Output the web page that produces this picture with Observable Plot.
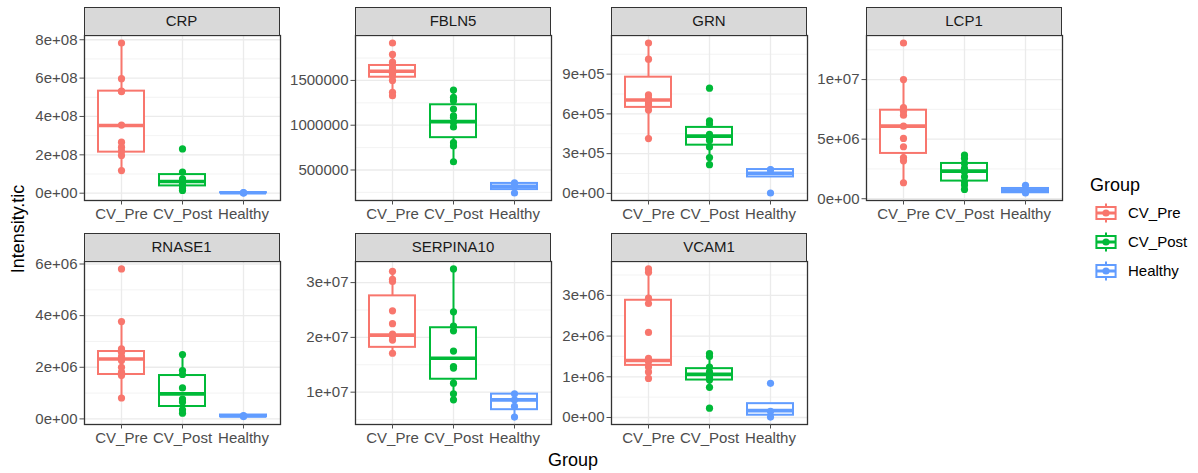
<!DOCTYPE html>
<html><head><meta charset="utf-8">
<script src="https://cdn.jsdelivr.net/npm/d3@7"></script>
<script src="https://cdn.jsdelivr.net/npm/@observablehq/plot@0.6"></script>
<style>
body{margin:0;background:#fff;font-family:"Liberation Sans",Arial,sans-serif;}
#chart{position:relative;width:1198px;height:473px;overflow:hidden;background:#fff;}
.strip{position:absolute;background:#D9D9D9;border:1.3px solid #333;box-sizing:border-box;text-align:center;color:#1A1A1A;font-size:15px;line-height:26px;}
.pan{position:absolute;}
.ttl{position:absolute;font-size:18px;color:#000;white-space:nowrap;}
.leg{position:absolute;left:1090px;top:172px;font-size:15px;color:#000;}
</style></head>
<body><div id="chart"></div>
<script>
const groups = ["CV_Pre","CV_Post","Healthy"];
const colors = ["#F8766D","#00BA38","#619CFF"];

// points per group (CV_Pre, CV_Post, Healthy); box = [lower whisker, q1, median, q3, upper whisker]
const CRP_points = [
  [7.83e8,5.97e8,5.32e8,5.30e8,3.55e8,2.66e8,2.40e8,2.19e8,1.97e8,1.18e8],
  [2.31e8,1.10e8,0.75e8,0.62e8,0.55e8,0.45e8,0.40e8,0.25e8,0.14e8],
  [0.03e8,0.02e8,0.01e8]];
const CRP_box = [[1.18e8,2.14e8,3.53e8,5.32e8,7.83e8],[0.14e8,0.38e8,0.61e8,0.97e8,1.10e8],[0.01e8,0.015e8,0.02e8,0.025e8,0.03e8]];
const CRP_ticks = [0,2e8,4e8,6e8,8e8];
const CRP_labels = ["0e+00","2e+08","4e+08","6e+08","8e+08"];

const FBLN5_points = [
  [1.918e6,1.79e6,1.704e6,1.667e6,1.63e6,1.61e6,1.58e6,1.55e6,1.5e6,1.367e6,1.33e6],
  [1.393e6,1.31e6,1.273e6,1.18e6,1.105e6,1.086e6,1.03e6,0.98e6,0.805e6,0.768e6,0.592e6],
  [0.356e6,0.318e6,0.243e6]];
const FBLN5_box = [[1.367e6,1.536e6,1.603e6,1.667e6,1.79e6],[0.592e6,0.861e6,1.04e6,1.228e6,1.393e6],[0.243e6,0.281e6,0.318e6,0.350e6,0.356e6]];
const FBLN5_ticks = [500000,1000000,1500000];
const FBLN5_labels = ["500000","1000000","1500000"];

const GRN_points = [
  [11.35e5,10.13e5,7.43e5,7.18e5,6.92e5,6.75e5,6.6e5,6.29e5,4.14e5],
  [7.94e5,5.48e5,5.23e5,4.45e5,4.22e5,4.0e5,3.51e5,2.70e5,2.17e5],
  [1.80e5,1.78e5,0.03e5]];
const GRN_box = [[4.14e5,6.49e5,7.05e5,8.77e5,11.35e5],[2.17e5,3.64e5,4.32e5,4.98e5,5.48e5],[1.24e5,1.24e5,1.52e5,1.80e5,1.80e5]];
const GRN_ticks = [0,3e5,6e5,9e5];
const GRN_labels = ["0e+00","3e+05","6e+05","9e+05"];

const LCP1_points = [
  [13.07e6,10.0e6,7.65e6,7.35e6,7.01e6,6.09e6,5.06e6,4.36e6,3.46e6,3.18e6,1.34e6],
  [3.66e6,3.38e6,2.96e6,2.54e6,2.26e6,1.84e6,1.42e6,1.15e6,0.78e6],
  [1.12e6,0.67e6,0.48e6]];
const LCP1_box = [[1.34e6,3.80e6,6.09e6,7.43e6,10.0e6],[0.78e6,1.48e6,2.32e6,2.96e6,3.66e6],[0.48e6,0.50e6,0.67e6,0.86e6,1.12e6]];
const LCP1_ticks = [0,5e6,1e7];
const LCP1_labels = ["0e+00","5e+06","1e+07"];

const RNASE1_points = [
  [5.81e6,3.77e6,2.71e6,2.58e6,2.41e6,2.26e6,2.0e6,1.81e6,1.68e6,0.81e6],
  [2.49e6,1.87e6,1.72e6,1.2e6,0.77e6,0.65e6,0.35e6,0.22e6],
  [0.13e6,0.11e6,0.09e6]];
const RNASE1_box = [[0.81e6,1.72e6,2.32e6,2.61e6,3.77e6],[0.22e6,0.48e6,0.97e6,1.68e6,2.49e6],[0.07e6,0.08e6,0.11e6,0.15e6,0.16e6]];
const RNASE1_ticks = [0,2e6,4e6,6e6];
const RNASE1_labels = ["0e+00","2e+06","4e+06","6e+06"];

const SERPINA10_points = [
  [32.06e6,30.6e6,30.2e6,24.85e6,22.5e6,20.6e6,20.2e6,19.5e6,17.1e6],
  [32.5e6,24.67e6,22.06e6,21.2e6,17.5e6,14.67e6,14.4e6,11.64e6,9.7e6,8.6e6],
  [9.7e6,8.6e6,7.4e6,5.45e6]];
const SERPINA10_box = [[17.1e6,18.18e6,20.42e6,27.58e6,32.06e6],[8.6e6,12.36e6,16.18e6,21.76e6,32.5e6],[5.45e6,6.8e6,8.6e6,9.64e6,9.7e6]];
const SERPINA10_ticks = [1e7,2e7,3e7];
const SERPINA10_labels = ["1e+07","2e+07","3e+07"];

const VCAM1_points = [
  [3.65e6,3.57e6,2.93e6,2.80e6,2.09e6,1.45e6,1.37e6,1.24e6,1.12e6,0.96e6],
  [1.57e6,1.50e6,1.24e6,1.12e6,1.04e6,0.98e6,0.92e6,0.74e6,0.23e6],
  [0.84e6,0.15e6,0.01e6]];
const VCAM1_box = [[0.96e6,1.28e6,1.40e6,2.88e6,3.65e6],[0.74e6,0.92e6,1.06e6,1.2e6,1.57e6],[0.01e6,0.056e6,0.17e6,0.34e6,0.34e6]];
const VCAM1_ticks = [0,1e6,2e6,3e6];
const VCAM1_labels = ["0e+00","1e+06","2e+06","3e+06"];

const genes = ["CRP","FBLN5","GRN","LCP1","RNASE1","SERPINA10","VCAM1"];
const panels = [
  {name:"CRP", pts:CRP_points, box:CRP_box, ticks:CRP_ticks, labels:CRP_labels},
  {name:"FBLN5", pts:FBLN5_points, box:FBLN5_box, ticks:FBLN5_ticks, labels:FBLN5_labels},
  {name:"GRN", pts:GRN_points, box:GRN_box, ticks:GRN_ticks, labels:GRN_labels},
  {name:"LCP1", pts:LCP1_points, box:LCP1_box, ticks:LCP1_ticks, labels:LCP1_labels},
  {name:"RNASE1", pts:RNASE1_points, box:RNASE1_box, ticks:RNASE1_ticks, labels:RNASE1_labels},
  {name:"SERPINA10", pts:SERPINA10_points, box:SERPINA10_box, ticks:SERPINA10_ticks, labels:SERPINA10_labels},
  {name:"VCAM1", pts:VCAM1_points, box:VCAM1_box, ticks:VCAM1_ticks, labels:VCAM1_labels}
];

// layout
const colLeft = [83.5, 355, 611, 866];
const PW = 196;
const stripTop = [7, 233];
const stripH = 28;
const panelTop = [35, 261];
const panelH = [165, 163];
const ML = 80, MR = 2, MT = 2, MB = 34;

const chart = document.getElementById("chart");

function makePanel(def, idx){
  const col = idx % 4, row = Math.floor(idx / 4);
  const pts = groups.flatMap((g,i)=>def.pts[i].map(v=>({g, v})));
  const boxes = groups.map((g,i)=>{const b=def.box[i]; return {g, lo:b[0], q1:b[1], med:b[2], q3:b[3], hi:b[4]};});
  const all = def.pts.flat().concat(def.box.flat());
  const [mn, mx] = d3.extent(all);
  const pad = (mx - mn) * 0.05;
  const dom = [mn - pad, mx + pad];
  const step = def.ticks[1] - def.ticks[0];
  const minor = [];
  for (let t = def.ticks[0] - step/2; t <= dom[1]; t += step) if (t >= dom[0]) minor.push(t);
  const fmt = new Map(def.ticks.map((t,i)=>[t, def.labels[i]]));
  const H = panelH[row];
  const svg = Plot.plot({
    width: ML + PW + MR, height: MT + H + MB,
    marginLeft: ML, marginRight: MR, marginTop: MT, marginBottom: MB,
    style: {background: "none", fontFamily: "'Liberation Sans', Arial, sans-serif", fontSize: "15px", overflow: "visible", maxWidth: "none"},
    x: {type: "band", domain: groups, paddingInner: 0.25, paddingOuter: 0.225, align: 0.5},
    y: {domain: dom},
    color: {domain: groups, range: colors},
    marks: [
      Plot.gridY(minor, {stroke: "#EBEBEB", strokeOpacity: 1, strokeWidth: 0.6}),
      Plot.gridY(def.ticks, {stroke: "#EBEBEB", strokeOpacity: 1, strokeWidth: 1.3}),
      Plot.gridX(groups, {stroke: "#EBEBEB", strokeOpacity: 1, strokeWidth: 1.3}),
      Plot.ruleX(boxes, {x: "g", y1: "lo", y2: "hi", stroke: "g", strokeWidth: 2}),
      Plot.barY(boxes, {x: "g", y1: "q1", y2: "q3", fill: "white", stroke: "g", strokeWidth: 2}),
      Plot.tickY(boxes, {x: "g", y: "med", stroke: "g", strokeWidth: 3.6}),
      Plot.dot(pts, {x: "g", y: "v", fill: "g", r: 3.6}),
      Plot.frame({stroke: "#333333", strokeWidth: 1.3}),
      Plot.axisY(def.ticks, {tickFormat: d => fmt.get(d), tickSize: 4.5, tickPadding: 2.5, fontSize: 15, color: "#4D4D4D", label: null}),
      Plot.axisX({tickSize: 4.5, tickPadding: 3.5, fontSize: 15, color: "#4D4D4D", label: null})
    ]
  });
  const wrap = document.createElement("div");
  wrap.className = "pan";
  wrap.style.left = (colLeft[col] - ML) + "px";
  wrap.style.top = (panelTop[row] - MT) + "px";
  wrap.appendChild(svg);
  chart.appendChild(wrap);
  const strip = document.createElement("div");
  strip.className = "strip";
  strip.style.left = colLeft[col] + "px";
  strip.style.top = stripTop[row] + "px";
  strip.style.width = PW + "px";
  strip.style.height = (stripH + 1) + "px";
  strip.textContent = def.name;
  chart.appendChild(strip);
}
panels.forEach(makePanel);

// axis titles
const xt = document.createElement("div");
xt.className = "ttl"; xt.textContent = "Group";
xt.style.left = "573px"; xt.style.top = "460px"; xt.style.transform = "translate(-50%,-50%)";
chart.appendChild(xt);
const yt = document.createElement("div");
yt.className = "ttl"; yt.textContent = "Intensity.tic";
yt.style.left = "18px"; yt.style.top = "229px"; yt.style.transform = "translate(-50%,-50%) rotate(-90deg)";
chart.appendChild(yt);

// legend
const leg = document.createElement("div");
leg.className = "leg";
let html = '<div style="font-size:18px;height:26px;line-height:26px;">Group</div>';
groups.forEach((g,i)=>{
  const c = colors[i];
  html += `<div style="display:flex;align-items:center;height:29px;margin-left:4px;">
  <svg width="24" height="24" style="display:block">
    <line x1="12" x2="12" y1="2.4" y2="21.6" stroke="${c}" stroke-width="2"/>
    <rect x="2.4" y="6" width="19.2" height="12" fill="white" stroke="${c}" stroke-width="2"/>
    <line x1="2.4" x2="21.6" y1="12" y2="12" stroke="${c}" stroke-width="3"/>
    <circle cx="12" cy="12" r="3.6" fill="${c}"/>
  </svg><span style="margin-left:10px;color:#000;">${g}</span></div>`;
});
leg.innerHTML = html;
chart.appendChild(leg);
</script>
</body></html>
